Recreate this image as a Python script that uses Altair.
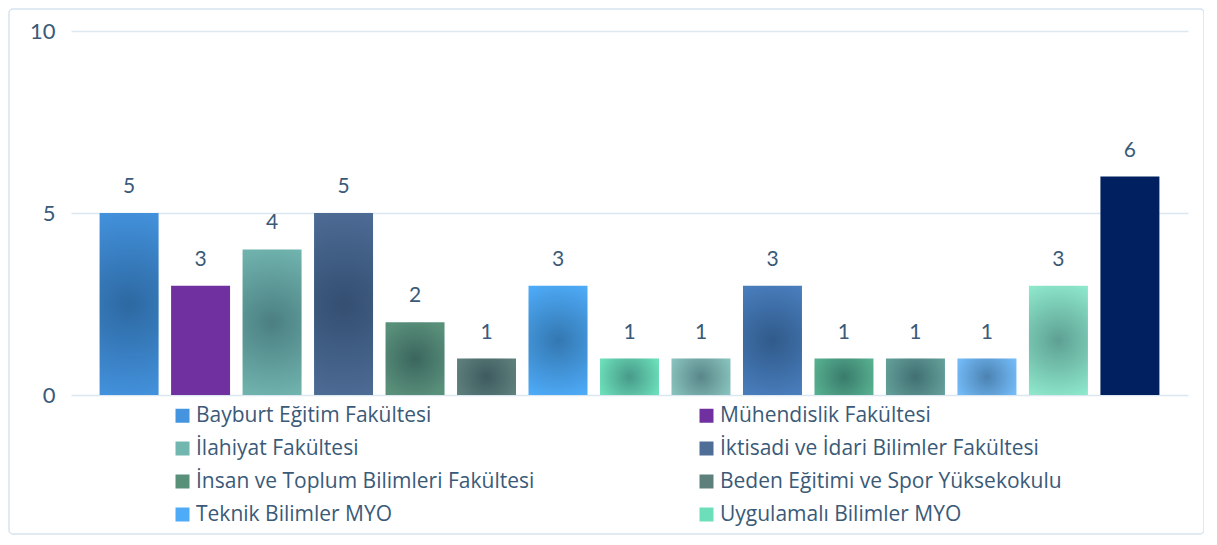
import altair as alt
import pandas as pd

names = [
    "Bayburt Eğitim Fakültesi",
    "Mühendislik Fakültesi",
    "İlahiyat Fakültesi",
    "İktisadi ve İdari Bilimler Fakültesi",
    "İnsan ve Toplum Bilimleri Fakültesi",
    "Beden Eğitimi ve Spor Yüksekokulu",
    "Teknik Bilimler MYO",
    "Uygulamalı Bilimler MYO",
    "Seri 9", "Seri 10", "Seri 11", "Seri 12", "Seri 13", "Seri 14", "Seri 15",
]
legend_names = names[:8]
values = [5, 3, 4, 5, 2, 1, 3, 1, 1, 3, 1, 1, 1, 3, 6]
colors = [
    "#4494e0", "#7030a0", "#72b6b0", "#4e6d97", "#59907a", "#5e807c",
    "#4eabf8", "#6cdfba", "#88c2bc", "#497ebd", "#57b08f", "#639f99",
    "#73bbf8", "#8ee8cb", "#002060",
]
flat = ["Mühendislik Fakültesi", "Seri 15"]

df = pd.DataFrame({"name": names, "value": values})

text_color = "#3a5a78"

x_enc = alt.X("name:N", sort=names, axis=None,
              scale=alt.Scale(domain=names, paddingInner=0.175, paddingOuter=0.4))
y_enc = alt.Y("value:Q", title=None,
              scale=alt.Scale(domain=[0, 10], nice=False),
              axis=alt.Axis(values=[0, 5, 10], grid=True, gridColor="#dce7f0",
                            gridWidth=1.5, domain=False, ticks=False,
                            labelColor=text_color, labelFontSize=22,
                            labelFont="Lato", labelPadding=16))

base = alt.Chart(df)

bars = base.mark_bar(stroke=None).encode(
    x=x_enc,
    y=y_enc,
    color=alt.Color("name:N", sort=names,
                    scale=alt.Scale(domain=names, range=colors),
                    legend=alt.Legend(
                        values=legend_names, title=None, orient="none",
                        legendX=101, legendY=374, columns=2, direction="horizontal",
                        symbolType="square", symbolSize=196, symbolStrokeWidth=0,
                        labelFont="Open Sans", labelFontSize=21, labelColor=text_color,
                        labelOffset=3, rowPadding=11, columnPadding=161,
                        labelLimit=500)),
)

spot = base.transform_filter(
    ~alt.FieldOneOfPredicate(field="name", oneOf=flat)
).mark_bar(
    fill=alt.RadialGradient(
        gradient="radial",
        stops=[alt.GradientStop(color="rgba(0,20,40,0.34)", offset=0),
               alt.GradientStop(color="rgba(0,20,40,0.0)", offset=1)],
        x1=0.5, y1=0.5, r1=0, x2=0.5, y2=0.5, r2=0.55),
).encode(x=x_enc, y=y_enc)

labels = base.mark_text(baseline="bottom", dy=-16, font="Lato", fontSize=21,
                        color=text_color).encode(
    x=x_enc, y=y_enc, text=alt.Text("value:Q"))

frame = alt.Chart(pd.DataFrame({"k": [0]})).mark_rect(
    fill=None, stroke="#d6e3ef", strokeWidth=1.5, cornerRadius=4, clip=False
).encode(x=alt.value(-62), x2=alt.value(1133), y=alt.value(-22), y2=alt.value(503))

chart = alt.layer(frame, bars, spot, labels).properties(
    width=1117, height=364,
    autosize=alt.AutoSizeParams(type="none"),
    padding={"left": 63, "top": 23, "right": 16, "bottom": 140},
).configure_view(stroke=None)

chart.save("out.html", embed_options={"renderer": "svg", "actions": False})
